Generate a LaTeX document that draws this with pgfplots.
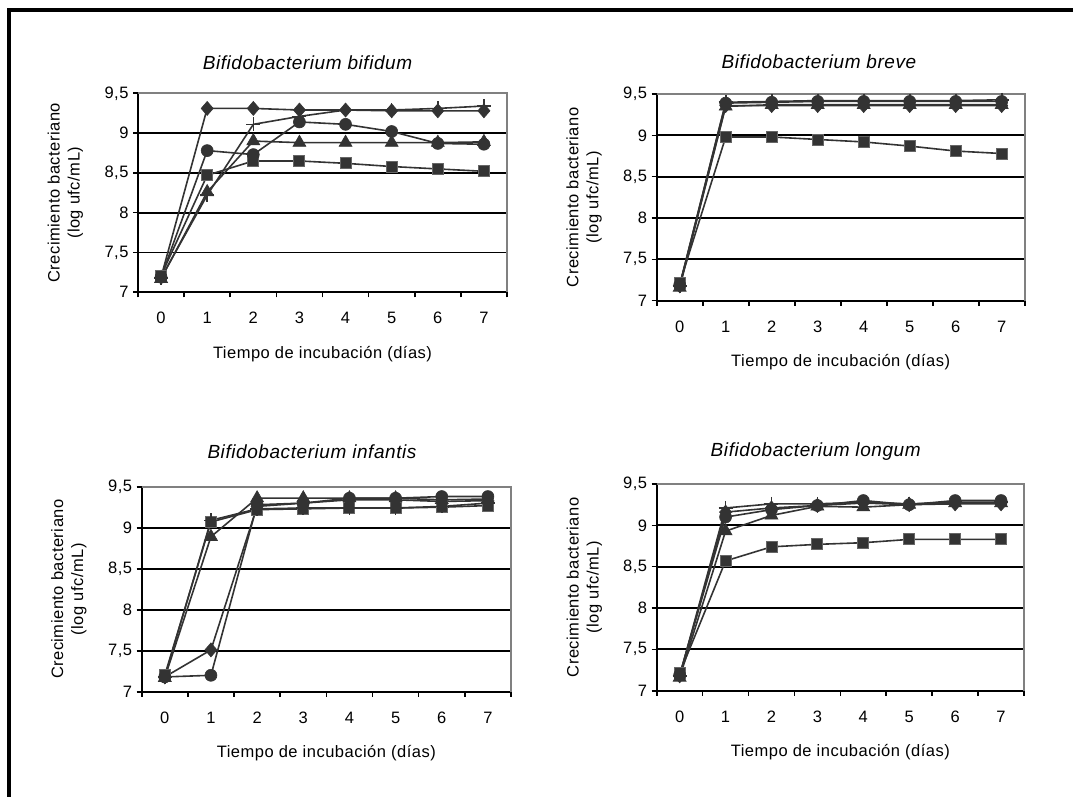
\documentclass[border=0pt]{standalone}
\usepackage{fontspec}
\setmainfont[LetterSpace=3]{Liberation Sans}
\usepackage{pgfplots}
\usepackage{pgfplotstable}
\pgfplotsset{compat=1.18}
\definecolor{ser}{HTML}{333333}

\pgfplotstableread{
x d s t c p
0 7.19 7.21 7.17 7.19 7.18
1 9.31 8.47 8.26 8.78 8.22
2 9.31 8.65 8.90 8.73 9.11
3 9.29 8.65 8.88 9.14 9.21
4 9.29 8.62 8.88 9.11 9.29
5 9.28 8.58 8.88 9.02 9.29
6 9.28 8.55 8.88 8.87 9.31
7 9.28 8.52 8.89 8.86 9.34
}\tbifidum
\pgfplotstableread{
x d s t c p
0 7.18 7.21 7.16 7.19 7.18
1 9.36 8.98 9.35 9.39 9.40
2 9.36 8.98 9.37 9.40 9.41
3 9.36 8.95 9.37 9.41 9.42
4 9.36 8.92 9.37 9.41 9.42
5 9.36 8.87 9.37 9.41 9.42
6 9.36 8.81 9.37 9.41 9.42
7 9.36 8.78 9.37 9.41 9.43
}\tbreve
\pgfplotstableread{
x d s t c p
0 7.18 7.20 7.17 7.18 7.18
1 7.51 9.07 8.89 7.20 9.09
2 9.26 9.22 9.36 9.28 9.23
3 9.30 9.23 9.36 9.30 9.24
4 9.34 9.24 9.36 9.36 9.24
5 9.34 9.24 9.36 9.36 9.24
6 9.32 9.25 9.34 9.38 9.26
7 9.33 9.27 9.35 9.38 9.30
}\tinfantis
\pgfplotstableread{
x d s t c p
0 7.18 7.21 7.16 7.19 7.18
1 9.16 8.57 8.93 9.10 9.21
2 9.21 8.74 9.12 9.19 9.26
3 9.24 8.77 9.23 9.24 9.26
4 9.27 8.79 9.22 9.30 9.28
5 9.25 8.83 9.25 9.25 9.26
6 9.26 8.83 9.27 9.30 9.28
7 9.26 8.83 9.27 9.30 9.28
}\tlongum

\pgfplotsset{
  panel/.style={
    scale only axis,
    xmin=-0.5, xmax=7.5, ymin=7, ymax=9.5,
    clip=false,
    font=\fontsize{16.5}{20}\selectfont,
    /pgf/number format/assume math mode=true,
    axis x line*=bottom, axis y line*=left,
    axis line style={black, line width=1.8pt},
    xtick={0,...,7},
    minor xtick={-0.5,0.5,...,7.5},
    ytick={7,7.5,8,8.5,9,9.5},
    yticklabels={7,{7,5},8,{8,5},9,{9,5}},
    tick align=outside,
    major tick length=5pt, minor tick length=5pt,
    every major x tick/.append style={draw=none},
    tick style={black, line width=1.6pt},
    ymajorgrids, grid style={black, line width=1.8pt},
    xticklabel style={yshift=-11.5pt},
    yticklabel style={xshift=-1pt},
    every axis x label/.style={at={(axis description cs:0.5,0)}, anchor=center, yshift=-61.5pt},
    every axis y label/.style={at={(axis description cs:-0.197,0.5)}, anchor=center, rotate=90, align=center},
    xlabel={Tiempo de incubación (días)},
    ylabel={Crecimiento bacteriano\\(log ufc/mL)},
    every axis plot/.append style={color=ser, line width=1.6pt},
  },
  md/.style={mark=diamond*, mark size=7pt, mark options={xscale=1.15, fill=ser, draw=ser, line width=0.6pt}},
  ms/.style={mark=square*, mark size=5.5pt, mark options={fill=ser, draw=gray!80!black, line width=0.9pt}},
  mt/.style={mark=triangle*, mark size=7.5pt, mark options={fill=ser, draw=ser, line width=0.6pt}},
  mc/.style={mark=*, mark size=6pt, mark options={fill=ser, draw=ser, line width=0.6pt}},
  mp/.style={mark=+, mark size=7pt, mark options={draw=ser, line width=1.6pt}},
}

\newcommand{\series}[1]{%
  \addplot[md] table[x=x,y=d] {#1};
  \addplot[ms] table[x=x,y=s] {#1};
  \addplot[mt] table[x=x,y=t] {#1};
  \addplot[mc] table[x=x,y=c] {#1};
  \addplot[mp] table[x=x,y=p] {#1};
  \draw[gray, line width=1.8pt] (rel axis cs:0,1) -- (rel axis cs:1,1) -- (rel axis cs:1,0);
}

\begin{document}
\begin{tikzpicture}
\useasboundingbox (0pt,0pt) rectangle (1073pt,796pt);
\fill[white] (0pt,0pt) rectangle (1073pt,796pt);
\draw[black, line width=4pt] (8.5pt,-20pt) -- (8.5pt,786pt) -- (1090pt,786pt);

\begin{axis}[panel, at={(138pt,503.7pt)}, anchor=south west, width=369pt, height=199pt]
\series{\tbifidum}
\end{axis}
\begin{axis}[panel, at={(656.7pt,495.3pt)}, anchor=south west, width=368pt, height=206.7pt]
\series{\tbreve}
\end{axis}
\begin{axis}[panel, at={(141.7pt,104.3pt)}, anchor=south west, width=369.3pt, height=205pt]
\series{\tinfantis}
\end{axis}
\begin{axis}[panel, at={(656.7pt,105.3pt)}, anchor=south west, width=367.3pt, height=206.7pt]
\series{\tlongum}
\end{axis}

\begin{scope}[font=\fontsize{19}{22}\selectfont\itshape]
\node at (307.5pt,733.3pt) {Bifidobacterium bifidum};
\node at (819pt,734.3pt) {Bifidobacterium breve};
\node at (312pt,344.3pt) {Bifidobacterium infantis};
\node at (815.7pt,344.3pt) {Bifidobacterium longum};
\end{scope}
\end{tikzpicture}
\end{document}
